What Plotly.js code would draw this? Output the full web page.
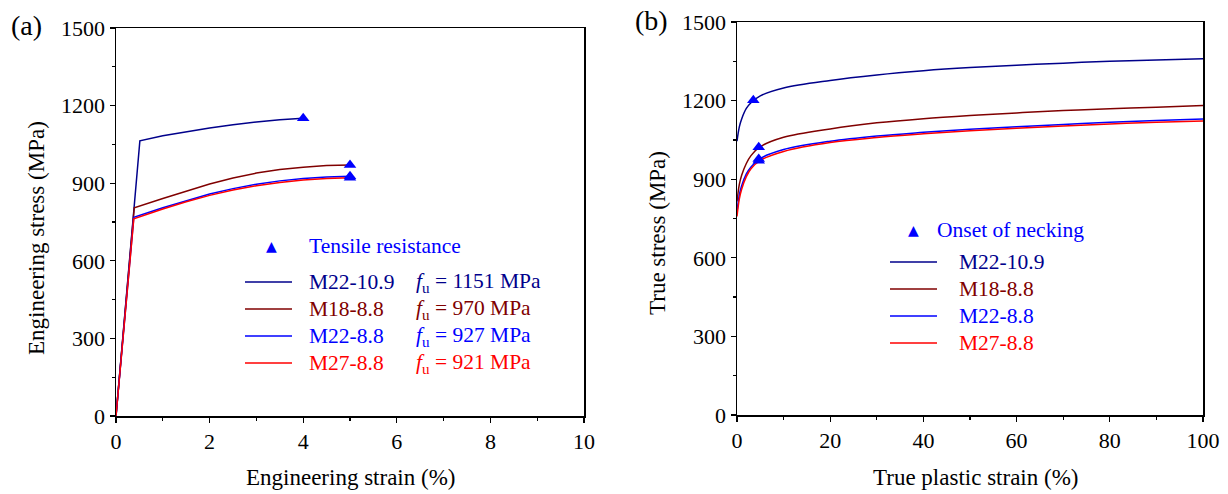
<!DOCTYPE html>
<html>
<head>
<meta charset="utf-8">
<script src="https://cdn.plot.ly/plotly-3.0.1.min.js"></script>
<style>html,body{margin:0;padding:0;background:#fff;}#chart{width:1228px;height:494px;}</style>
</head>
<body>
<div id="chart"></div>
<script>
// ---------- Data: (a) engineering stress-strain ----------
const specimens = ["M22-10.9", "M18-8.8", "M22-8.8", "M27-8.8"];
const tensileResistance = [1151, 970, 927, 921];

const engStrain_M22_109 = [0, 0.51, 1.0, 1.5, 2.0, 2.5, 3.0, 3.5, 4.0];
const engStress_M22_109 = [0, 1064, 1083, 1099, 1113, 1126, 1137, 1145, 1151];
const engStrain_M18_88 = [0, 0.39, 1.0, 1.5, 2.0, 2.5, 3.0, 3.5, 4.0, 4.5, 5.0];
const engStress_M18_88 = [0, 805, 841, 870, 897, 920, 939, 953, 962, 968, 970];
const engStrain_M22_88 = [0, 0.38, 1.0, 1.5, 2.0, 2.5, 3.0, 3.5, 4.0, 4.5, 5.0];
const engStress_M22_88 = [0, 768, 805, 833, 858, 879, 896, 909, 918, 924, 927];
const engStrain_M27_88 = [0, 0.38, 1.0, 1.5, 2.0, 2.5, 3.0, 3.5, 4.0, 4.5, 5.0];
const engStress_M27_88 = [0, 762, 800, 828, 853, 874, 890, 903, 912, 918, 921];

const tensileStrain = [4.0, 5.0, 5.0, 5.0];
const tensileStress = [1151, 970, 927, 921];

// ---------- Data: (b) true stress vs true plastic strain ----------
const truePlasticStrain = [0, 0.5, 1, 2, 3, 5, 10, 20, 30, 40, 50, 60, 70, 80, 90, 100];
const trueStress_M22_109 = [1045, 1100, 1130, 1170, 1192, 1218, 1248, 1277, 1298, 1314, 1326, 1335, 1343, 1350, 1355, 1360];
const trueStress_M18_88 = [815, 880, 915, 960, 990, 1024, 1060, 1092, 1115, 1131, 1143, 1153, 1162, 1169, 1175, 1181];
const trueStress_M22_88 = [775, 840, 875, 920, 947, 979, 1013, 1045, 1065, 1079, 1091, 1100, 1109, 1117, 1124, 1130];
const trueStress_M27_88 = [758, 825, 862, 910, 940, 972, 1006, 1040, 1059, 1073, 1085, 1094, 1103, 1111, 1117, 1122];

const neckingStrain = [3.5, 4.66, 4.66, 4.66];
const neckingStress = [1201, 1022, 977, 970];

// ---------- Tick labels ----------
const engStrainTicks = [0, 2, 4, 6, 8, 10];
const truePlasticTicks = [0, 20, 40, 60, 80, 100];
const stressTicks = [0, 300, 600, 900, 1200, 1500];

// ---------- Styling ----------
const lineColors = ["#00008B", "#800000", "#0000FF", "#FF0000"];
const textColors = ["#00008B", "#800000", "#0000FF", "#FF0000"];
const markerColor = "#0000FF";
const FONT = "Liberation Serif, Times New Roman, serif";
const W = 1228, H = 494;
const px = x => x / W;
const py = y => 1 - y / H;

const engX = [engStrain_M22_109, engStrain_M18_88, engStrain_M22_88, engStrain_M27_88];
const engY = [engStress_M22_109, engStress_M18_88, engStress_M22_88, engStress_M27_88];
const trueY = [trueStress_M22_109, trueStress_M18_88, trueStress_M22_88, trueStress_M27_88];

const traces = [];
specimens.forEach((name, i) => {
  traces.push({x: engX[i], y: engY[i], type: "scatter", mode: "lines", name: name,
    line: {color: lineColors[i], width: 1.5, shape: "linear"},
    xaxis: "x", yaxis: "y", showlegend: false, hoverinfo: "skip"});
});
traces.push({x: tensileStrain, y: tensileStress, type: "scatter", mode: "markers", name: "Tensile resistance",
  marker: {symbol: "triangle-up", size: 11, color: markerColor}, xaxis: "x", yaxis: "y", showlegend: false});
specimens.forEach((name, i) => {
  traces.push({x: truePlasticStrain, y: trueY[i], type: "scatter", mode: "lines", name: name,
    line: {color: lineColors[i], width: 1.5, shape: "spline", smoothing: 1},
    xaxis: "x2", yaxis: "y2", showlegend: false, hoverinfo: "skip"});
});
traces.push({x: neckingStrain, y: neckingStress, type: "scatter", mode: "markers", name: "Onset of necking",
  marker: {symbol: "triangle-up", size: 11, color: markerColor}, xaxis: "x2", yaxis: "y2", showlegend: false});

const tickFont = {family: FONT, size: 22, color: "#000"};
function mainAxis(domain, anchor, range, tickvals, dtickMinor) {
  return {domain: domain, anchor: anchor, range: range, tickvals: tickvals, ticktext: tickvals.map(String),
    ticks: "outside", ticklen: 5, tickwidth: 1.3, tickcolor: "#000",
    minor: {ticks: "outside", ticklen: 3, tickwidth: 1.3, tickcolor: "#000", dtick: dtickMinor, showgrid: false},
    showline: true, linecolor: "#000", linewidth: 1.5, mirror: true,
    showgrid: false, zeroline: false, tickfont: tickFont, fixedrange: true};
}
function mirrorAxis(domain, anchor, overlay, side, range, tickvals, dtickMinor) {
  return {domain: domain, anchor: anchor, overlaying: overlay, side: side, range: range,
    tickvals: tickvals, showticklabels: false,
    ticks: "inside", ticklen: 5, tickwidth: 1.3, tickcolor: "#000",
    minor: {ticks: "inside", ticklen: 3, tickwidth: 1.3, tickcolor: "#000", dtick: dtickMinor, showgrid: false},
    showline: false, showgrid: false, zeroline: false, fixedrange: true};
}

const xa = [px(116), px(584)], ya = [py(416), py(28)];
const xb = [px(737), px(1203)], yb = [py(415), py(22)];

const layout = {
  width: W, height: H, margin: {l: 0, r: 0, t: 0, b: 0},
  paper_bgcolor: "#fff", plot_bgcolor: "#fff", showlegend: false,
  font: {family: FONT, size: 22, color: "#000"},
  xaxis: mainAxis(xa, "y", [0, 10], engStrainTicks, 1),
  yaxis: mainAxis(ya, "x", [0, 1500], stressTicks, 150),
  xaxis2: mainAxis(xb, "y2", [0, 100], truePlasticTicks, 10),
  yaxis2: mainAxis(yb, "x2", [0, 1500], stressTicks, 150),
  xaxis3: mirrorAxis(xa, "y", "x", "top", [0, 10], engStrainTicks, 1),
  yaxis3: mirrorAxis(ya, "x", "y", "right", [0, 1500], stressTicks, 150),
  xaxis4: mirrorAxis(xb, "y2", "x2", "top", [0, 100], truePlasticTicks, 10),
  yaxis4: mirrorAxis(yb, "x2", "y2", "right", [0, 1500], stressTicks, 150),
  shapes: [], annotations: []
};

function ann(text, x, y, opts) {
  layout.annotations.push(Object.assign({text: text, x: px(x), y: py(y), xref: "paper", yref: "paper",
    showarrow: false, xanchor: "left", yanchor: "middle",
    font: {family: FONT, size: 22, color: "#000"}}, opts || {}));
}

// Panel labels and axis titles
ann("(a)", 26, 26, {xanchor: "center", font: {family: FONT, size: 28, color: "#000"}});
ann("(b)", 651, 20, {xanchor: "center", font: {family: FONT, size: 28, color: "#000"}});
ann("Engineering strain (%)", 350, 477, {xanchor: "center", font: {family: FONT, size: 23, color: "#000"}});
ann("Engineering stress (MPa)", 36, 238, {xanchor: "center", textangle: -90, font: {family: FONT, size: 23, color: "#000"}});
ann("True plastic strain (%)", 975, 477, {xanchor: "center", font: {family: FONT, size: 23, color: "#000"}});
ann("True stress (MPa)", 657, 233, {xanchor: "center", textangle: -90, font: {family: FONT, size: 23, color: "#000"}});

const LF = 21.5;
// Legend (a)
ann("▲", 271, 246, {xanchor: "center", font: {family: "DejaVu Sans", size: 14, color: markerColor}});
ann("Tensile resistance", 307, 246, {font: {family: FONT, size: LF, color: markerColor}});
const rowsA = [282, 309, 336, 363];
specimens.forEach((name, i) => {
  layout.shapes.push({type: "line", xref: "paper", yref: "paper", x0: px(245), x1: px(292), y0: py(rowsA[i]), y1: py(rowsA[i]),
    line: {color: lineColors[i], width: 1.5}});
  ann(name, 307, rowsA[i], {font: {family: FONT, size: LF, color: textColors[i]}});
  ann("<i>f</i><sub>u</sub> = " + tensileResistance[i] + " MPa", 414, rowsA[i], {font: {family: FONT, size: LF, color: textColors[i]}});
});

// Legend (b)
ann("▲", 913, 230, {xanchor: "center", font: {family: "DejaVu Sans", size: 14, color: markerColor}});
ann("Onset of necking", 935, 230, {font: {family: FONT, size: LF, color: markerColor}});
const rowsB = [262, 289, 316, 343];
specimens.forEach((name, i) => {
  layout.shapes.push({type: "line", xref: "paper", yref: "paper", x0: px(890), x1: px(937), y0: py(rowsB[i]), y1: py(rowsB[i]),
    line: {color: lineColors[i], width: 1.5}});
  ann(name, 957, rowsB[i], {font: {family: FONT, size: LF, color: textColors[i]}});
});

Plotly.newPlot("chart", traces, layout, {displayModeBar: false, staticPlot: true});
</script>
</body>
</html>
